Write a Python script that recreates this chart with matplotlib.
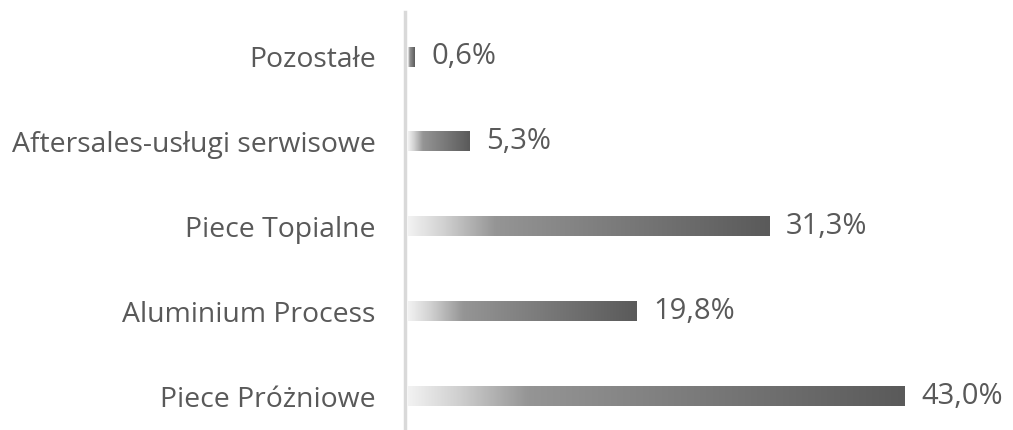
import numpy as np
import matplotlib.pyplot as plt
from matplotlib.colors import LinearSegmentedColormap

# data, bottom to top
categories = ['Piece Próżniowe', 'Aluminium Process', 'Piece Topialne',
              'Aftersales-usługi serwisowe', 'Pozostałe']
shares = [43.0, 19.8, 31.3, 5.3, 0.6]

W, H = 1013, 430
fig = plt.figure(figsize=(W/100, H/100), dpi=100)
ax = fig.add_axes([405/W, 0, (W-405)/W, (H-12)/H])

txt = '#595959'
grad = LinearSegmentedColormap.from_list(
    'g', [(0, '#f2f2f2'), (0.1, '#d0d0d0'), (0.24, '#959595'), (1, '#5a5a5a')])

y = np.arange(len(categories))
bars = ax.barh(y, shares, height=0.23, color='none', left=0)
ramp = np.linspace(0, 1, 256).reshape(1, -1)
for b, v in zip(bars, shares):
    x0, y0 = b.get_x(), b.get_y()
    ax.imshow(ramp, cmap=grad, aspect='auto', interpolation='bilinear',
              extent=(x0, x0 + b.get_width(), y0, y0 + b.get_height()), zorder=2)
    ax.annotate(f'{v:.1f}%'.replace('.', ','), (v, b.get_y() + b.get_height()/2),
                xytext=(12, 0), textcoords='offset points', va='center', ha='left',
                fontsize=21, color=txt, family='Open Sans')

ax.set_xlim(-0.25, 52.4)
ax.set_ylim(-0.4, 4.53)
ax.set_yticks(y)
ax.set_yticklabels(categories, fontsize=20.4, color=txt, family='Open Sans')
ax.tick_params(axis='y', length=0, pad=21)
ax.set_xticks([])
for s in ['top', 'right', 'bottom']:
    ax.spines[s].set_visible(False)
ax.spines['left'].set_color('#d9d9d9')
ax.spines['left'].set_linewidth(2.5)

fig.savefig('out.png', dpi=100)
